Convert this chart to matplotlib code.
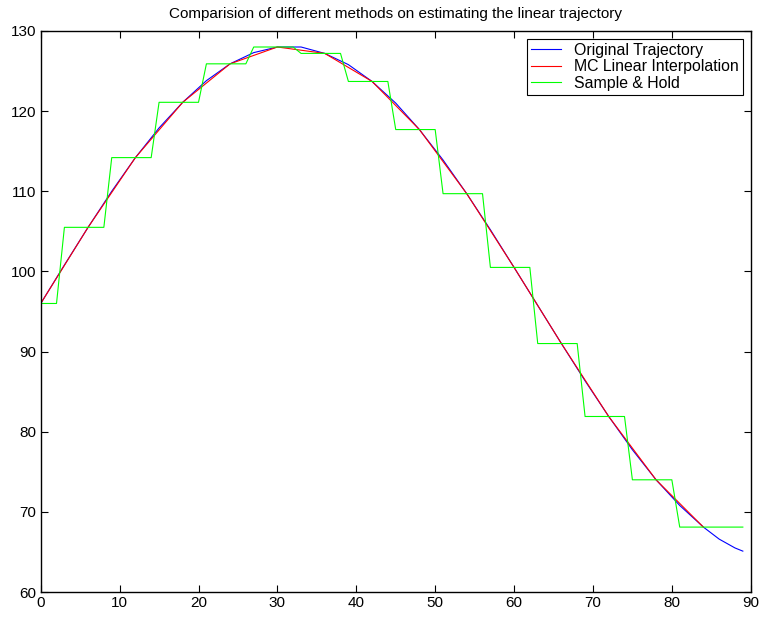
import matplotlib
matplotlib.use("Agg")
import matplotlib.pyplot as plt

plt.rcParams['font.family'] = ['Liberation Sans', 'DejaVu Sans']

# original trajectory, read every 3 units
traj_x = [0, 3, 6, 9, 12, 15, 18, 21, 24, 27, 30, 33, 36, 39, 42, 45, 48, 51,
          54, 57, 60, 63, 66, 69, 72, 75, 78, 81, 84, 86, 88, 89]
traj_y = [96.0, 100.8, 105.5, 110.0, 114.2, 117.9, 121.1, 123.8, 125.9, 127.3,
          128.0, 128.0, 127.2, 125.8, 123.7, 121.0, 117.7, 113.9, 109.7, 105.2,
          100.5, 95.75, 91.0, 86.35, 81.9, 77.75, 74.0, 70.8, 68.1, 66.6, 65.5, 65.1]

# samples every 6 units (used by both estimators)
samp_x = [0, 6, 12, 18, 24, 30, 36, 42, 48, 54, 60, 66, 72, 78, 84]
samp_y = [96.0, 105.5, 114.2, 121.1, 125.9, 128.0, 127.2, 123.7, 117.7, 109.7,
          100.5, 91.0, 81.9, 74.0, 68.1]

# sample & hold: each level starts at hold_start and lasts until next start - 1
hold_start = [0, 3, 9, 15, 21, 27, 33, 39, 45, 51, 57, 63, 69, 75, 81]
hold_end = 89

hx, hy = [], []
for i, (s, v) in enumerate(zip(hold_start, samp_y)):
    e = hold_start[i + 1] - 1 if i + 1 < len(hold_start) else hold_end
    hx += [s, e]
    hy += [v, v]

fig = plt.figure(figsize=(7.6, 6.17), dpi=100)
ax = fig.add_axes([0.0536, 0.0405, 0.9342, 0.9093])

ax.plot(traj_x, traj_y, color=(0, 0, 1), lw=0.8, label='Original Trajectory')
ax.plot(samp_x, samp_y, color=(1, 0, 0), lw=0.8, label='MC Linear Interpolation')
ax.plot(hx, hy, color=(0, 1, 0), lw=0.8, label='Sample & Hold')

ax.set_xlim(0, 90)
ax.set_ylim(60, 130)
ax.set_xticks(range(0, 91, 10))
ax.set_yticks(range(60, 131, 10))
ax.tick_params(direction='in', top=True, right=True, length=5, width=0.8,
               labelsize=11, pad=3)
for sp in ax.spines.values():
    sp.set_linewidth(1.0)

ax.set_title('Comparision of different methods on estimating the linear trajectory',
             fontsize=11, pad=9)

leg = ax.legend(loc='upper right', fontsize=11.4, fancybox=False, framealpha=1,
                edgecolor='black', borderpad=0.25, labelspacing=0.1,
                handlelength=1.9, handletextpad=0.8, borderaxespad=0.5)
leg.get_frame().set_linewidth(0.8)

fig.savefig('out.png', dpi=100)
